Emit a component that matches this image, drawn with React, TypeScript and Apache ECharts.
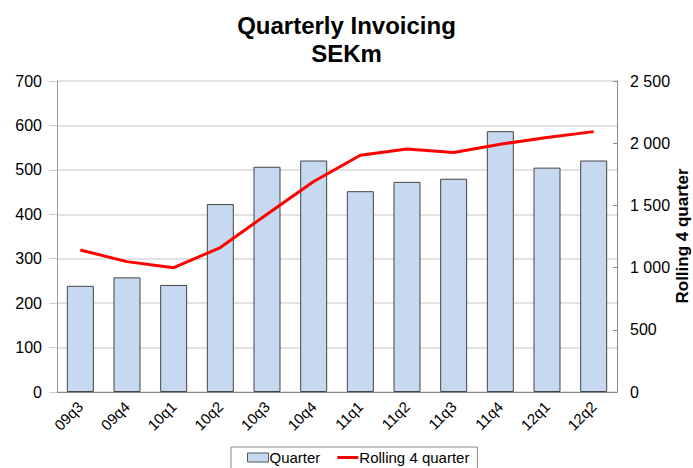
import React, { useEffect, useRef } from "react";
import * as echarts from "echarts";

const categories = ["09q3", "09q4", "10q1", "10q2", "10q3", "10q4", "11q1", "11q2", "11q3", "11q4", "12q1", "12q2"];
const quarterValues = [239, 258, 241, 423, 507, 521, 452, 473, 480, 587, 505, 521];
const rollingValues = [1141, 1048, 999, 1161, 1429, 1692, 1903, 1953, 1926, 1992, 2045, 2093];

const FONT = "Liberation Sans, Arial, sans-serif";

export default function App() {
  const ref = useRef<HTMLDivElement>(null);
  useEffect(() => {
    if (!ref.current) return;
    const chart = echarts.init(ref.current, undefined, { renderer: "svg" });
    chart.setOption({
      animation: false,
      backgroundColor: "#ffffff",
      textStyle: { fontFamily: FONT },
      title: {
        text: "Quarterly Invoicing\nSEKm",
        left: "center",
        top: 6,
        textStyle: { fontSize: 24, fontWeight: "bold", color: "#000", lineHeight: 28, fontFamily: FONT },
      },
      grid: { left: 57, right: 76, top: 81, bottom: 76 },
      legend: {
        top: 447,
        left: 231,
        itemGap: 17,
        itemWidth: 21,
        itemHeight: 9,
        borderColor: "#888",
        borderWidth: 1,
        padding: [3, 8, 8, 16],
        textStyle: { fontSize: 15, color: "#000", fontFamily: FONT, padding: [0, 0, 0, -4] },
        data: [
          { name: "Quarter", icon: "rect", itemStyle: { color: "#c6d9f0", borderColor: "#555", borderWidth: 1 } },
          {
            name: "Rolling 4 quarter",
            icon: "path://M0,0 L21,0 L21,3 L0,3 Z",
            itemStyle: { color: "#ff0000", borderWidth: 0 },
          },
        ],
      },
      xAxis: {
        type: "category",
        data: categories,
        axisLine: { lineStyle: { color: "#888" } },
        axisTick: { show: false },
        axisLabel: { rotate: 45, fontSize: 15, color: "#000", margin: 12, fontFamily: FONT },
      },
      yAxis: [
        {
          type: "value",
          min: 0,
          max: 700,
          interval: 100,
          axisLine: { show: true, lineStyle: { color: "#999" } },
          axisTick: { show: true, length: 8, lineStyle: { color: "#ccc" } },
          axisLabel: { fontSize: 16, color: "#000", margin: 15, fontFamily: FONT },
          splitLine: { lineStyle: { color: "#d9d9d9", width: 1.5 } },
        },
        {
          type: "value",
          min: 0,
          max: 2500,
          interval: 500,
          position: "right",
          axisLine: { show: true, lineStyle: { color: "#888" } },
          axisTick: { show: true, inside: true, length: 4, lineStyle: { color: "#888" } },
          axisLabel: {
            fontSize: 16,
            color: "#000",
            margin: 13,
            fontFamily: FONT,
            formatter: (v: number) => String(v).replace(/\B(?=(\d{3})+(?!\d))/g, " "),
          },
          splitLine: { show: false },
        },
      ],
      graphic: [
        {
          type: "text",
          x: 682,
          y: 236,
          rotation: Math.PI / 2,
          style: {
            text: "Rolling 4 quarter",
            font: "bold 17px " + FONT,
            fill: "#000",
            textAlign: "center",
            textVerticalAlign: "middle",
          },
        },
      ],
      series: [
        {
          name: "Quarter",
          type: "bar",
          data: quarterValues,
          barWidth: 27,
          itemStyle: { color: "#c6d9f0", borderColor: "#444", borderWidth: 1 },
        },
        {
          name: "Rolling 4 quarter",
          type: "line",
          yAxisIndex: 1,
          data: rollingValues,
          symbol: "none",
          lineStyle: { color: "#ff0000", width: 3 },
          itemStyle: { color: "#ff0000" },
        },
      ],
    });
    return () => chart.dispose();
  }, []);
  return <div ref={ref} style={{ width: 693, height: 468, position: "absolute", left: 0, top: 0 }} />;
}
